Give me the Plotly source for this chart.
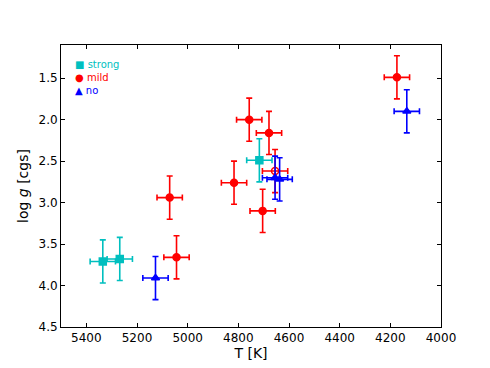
import plotly.graph_objects as go

# strong
strong_T = [5335, 5268, 4717]
strong_g = [3.71, 3.68, 2.49]
strong_eT = [50, 50, 50]
strong_eg = [0.26, 0.26, 0.26]

# mild
mild_T = [5044, 4757, 4679, 4655, 4817, 4704, 5071, 4174]
mild_g = [3.66, 2.00, 2.16, 2.62, 2.76, 3.10, 2.94, 1.49]
mild_eT = [50, 50, 50, 50, 50, 50, 50, 50]
mild_eg = [0.26, 0.26, 0.26, 0.26, 0.26, 0.26, 0.26, 0.26]
mild_open = [False, False, False, True, False, False, False, False]

# no
no_T = [5127, 4655, 4637, 4135]
no_g = [3.91, 2.70, 2.72, 1.90]
no_eT = [50, 50, 50, 50]
no_eg = [0.26, 0.26, 0.26, 0.26]

x_ticks = [5400, 5200, 5000, 4800, 4600, 4400, 4200, 4000]
y_ticks = [1.5, 2.0, 2.5, 3.0, 3.5, 4.0, 4.5]

legend_labels = ["strong", "mild", "no"]
legend_glyphs = ["■", "●", "▲"]

C_STRONG = "#00BFBF"
C_MILD = "#FF0000"
C_NO = "#0000FF"
colors = [C_STRONG, C_MILD, C_NO]

fig = go.Figure()

def add(T, g, eT, eg, color, name, symbol, size):
    fig.add_trace(go.Scatter(
        x=T, y=g, mode="markers", name=name, showlegend=False,
        marker=dict(color=color, symbol=symbol, size=size,
                    line=dict(color=color, width=1.5)),
        error_x=dict(type="data", array=eT, color=color, thickness=1.6, width=3),
        error_y=dict(type="data", array=eg, color=color, thickness=1.6, width=3),
    ))

add(strong_T, strong_g, strong_eT, strong_eg, C_STRONG, "strong", "square", 7)
add(mild_T, mild_g, mild_eT, mild_eg, C_MILD, "mild",
    ["circle-open" if o else "circle" for o in mild_open], 7)
add(no_T, no_g, no_eT, no_eg, C_NO, "no", "triangle-up", 7)

# legend drawn as text
leg_y = [0.932, 0.885, 0.838]
for lab, gl, col, yy in zip(legend_labels, legend_glyphs, colors, leg_y):
    fig.add_annotation(
        xref="paper", yref="paper", x=0.031, y=yy, xanchor="left", yanchor="middle",
        text=f"<span style='color:{col}'>{gl} {lab}</span>", showarrow=False,
        font=dict(family="DejaVu Sans", size=10, color=col),
    )

axis_common = dict(
    showline=True, linecolor="black", linewidth=1, mirror="ticks",
    ticks="inside", ticklen=4, tickcolor="black", showgrid=False, zeroline=False,
    automargin=False,
    tickfont=dict(family="DejaVu Sans", size=12, color="black"),
)

fig.update_layout(
    width=490, height=368,
    margin=dict(l=53, r=57, t=37, b=49),
    paper_bgcolor="white", plot_bgcolor="white",
    font=dict(family="DejaVu Sans", color="black"),
    xaxis=dict(range=[5500, 4000], tickvals=x_ticks,
               title=dict(text="T [K]", font=dict(size=14), standoff=2),
               **axis_common),
    yaxis=dict(range=[4.5, 1.1], tickvals=y_ticks, tickformat=".1f",
               title=dict(text="log <i>g</i> [cgs]", font=dict(size=14), standoff=6),
               **axis_common),
    showlegend=False,
)

fig.write_html("out.html")
